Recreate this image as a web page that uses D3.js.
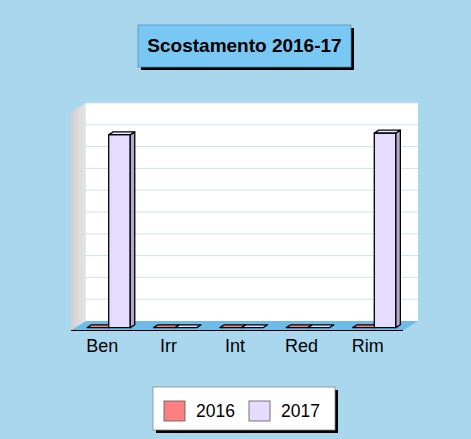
<!DOCTYPE html>
<html>
<head>
<meta charset="utf-8">
<script src="https://cdn.jsdelivr.net/npm/d3@7"></script>
<style>
  body { margin: 0; background: #a9d8ee; }
  svg { display: block; font-family: 'Liberation Sans', Arial, sans-serif; }
</style>
</head>
<body>
<div id="chart"></div>
<script>
const categories = ['Ben', 'Irr', 'Int', 'Red', 'Rim']
const seriesNames = ['2016', '2017']
const values2016 = [0, 0, 0, 0, 0]
const values2017 = [8.85, 0, 0, 0, 8.93]
const title = 'Scostamento 2016-17'

const width = 471, height = 439

const colors = {
  '2016': { front: '#ff8080', side: '#c86060', top: '#ff9c9c' },
  '2017': { front: '#e6dcff', side: '#b4aacb', top: '#f1ecff' }
}

// floor depth (front -> back wall)
const depth = { dx: 15, dy: -9.5 }
const barFront = 0.3, barBack = 0.6

const svg = d3.select('#chart').append('svg')
  .attr('width', width).attr('height', height)
  .attr('viewBox', [0, 0, width, height])

svg.append('rect').attr('width', width).attr('height', height).attr('fill', '#a9d8ee')

// scales on the front plane
const x = d3.scaleBand().domain(categories).range([71, 403])
const x1 = d3.scaleBand().domain(seriesNames).range([0, x.bandwidth()]).paddingOuter(0.54)
const y = d3.scaleLinear().domain([0, 10]).range([330.5, 112.5])

const x0 = x.range()[0], xEnd = x.range()[1]
const yBase = y(0), yTop = y(10)

const defs = svg.append('defs')
const grad = defs.append('linearGradient').attr('id', 'sidewall')
  .attr('x1', 0).attr('x2', 1).attr('y1', 0).attr('y2', 0)
grad.append('stop').attr('offset', 0).attr('stop-color', '#cfcfcf')
grad.append('stop').attr('offset', 1).attr('stop-color', '#e6e6e6')

// back wall
svg.append('rect')
  .attr('x', x0 + depth.dx).attr('y', yTop + depth.dy)
  .attr('width', xEnd - x0).attr('height', yBase - yTop)
  .attr('fill', '#ffffff')

// grid lines on back wall
svg.append('g').selectAll('line')
  .data(d3.range(1, 11))
  .join('line')
  .attr('x1', x0 + depth.dx).attr('x2', xEnd + depth.dx)
  .attr('y1', d => y(d) + depth.dy).attr('y2', d => y(d) + depth.dy)
  .attr('stroke', '#cde3ea').attr('stroke-width', 1)

// left side wall
svg.append('polygon')
  .attr('points', [
    [x0, yBase], [x0 + depth.dx, yBase + depth.dy],
    [x0 + depth.dx, yTop + depth.dy], [x0, yTop]
  ].join(' '))
  .attr('fill', 'url(#sidewall)')

// floor
svg.append('polygon')
  .attr('points', [
    [x0, yBase], [xEnd, yBase],
    [xEnd + depth.dx, yBase + depth.dy], [x0 + depth.dx, yBase + depth.dy]
  ].join(' '))
  .attr('fill', '#6cbbe8')
svg.append('line')
  .attr('x1', x0).attr('x2', xEnd).attr('y1', yBase).attr('y2', yBase)
  .attr('stroke', '#000').attr('stroke-width', 1.2)

// bars
const bars = []
categories.forEach((c, i) => {
  bars.push({ cat: c, s: '2016', v: values2016[i] })
  bars.push({ cat: c, s: '2017', v: values2017[i] })
})

const fx = depth.dx * barFront, fy = depth.dy * barFront
const bx = depth.dx * (barBack - barFront), by = depth.dy * (barBack - barFront)

const barG = svg.append('g')
  .attr('stroke', '#000').attr('stroke-width', 1.3).attr('stroke-linejoin', 'round')

bars.forEach(d => {
  const left = x(d.cat) + x1(d.s) + fx
  const right = left + x1.bandwidth()
  const top = y(d.v) + fy
  const bottom = yBase + fy
  const g = barG.append('g')
  if (d.v > 0) {
    g.append('rect')
      .attr('x', left).attr('y', top)
      .attr('width', right - left).attr('height', bottom - top)
      .attr('fill', colors[d.s].front)
    g.append('polygon')
      .attr('points', [[right, top], [right + bx, top + by], [right + bx, bottom + by], [right, bottom]].join(' '))
      .attr('fill', colors[d.s].side)
  }
  g.append('polygon')
    .attr('points', [[left, top], [right, top], [right + bx, top + by], [left + bx, top + by]].join(' '))
    .attr('fill', d.v > 0 ? colors[d.s].top : colors[d.s].front)
})

// category axis
const axis = svg.append('g')
  .attr('transform', `translate(-2,${yBase + 6})`)
  .call(d3.axisBottom(x).tickSize(0).tickPadding(3))
axis.select('.domain').remove()
axis.selectAll('text')
  .attr('font-size', 18).attr('fill', '#000')
  .attr('font-family', "'Liberation Sans', Arial, sans-serif")

// title box
const tb = { x: 138, y: 25, w: 213, h: 42 }
svg.append('rect')
  .attr('x', tb.x + 3).attr('y', tb.y + 3).attr('width', tb.w).attr('height', tb.h)
  .attr('fill', '#000')
svg.append('rect')
  .attr('x', tb.x).attr('y', tb.y).attr('width', tb.w).attr('height', tb.h)
  .attr('fill', '#79c7f3').attr('stroke', '#5a8fb0').attr('stroke-width', 0.8)
svg.append('text')
  .attr('x', tb.x + tb.w / 2).attr('y', tb.y + 27)
  .attr('text-anchor', 'middle')
  .attr('font-size', 19).attr('font-weight', 'bold')
  .text(title)

// legend
const lb = { x: 153, y: 387, w: 182, h: 43 }
svg.append('rect')
  .attr('x', lb.x + 3).attr('y', lb.y + 3).attr('width', lb.w).attr('height', lb.h)
  .attr('fill', '#000')
svg.append('rect')
  .attr('x', lb.x).attr('y', lb.y).attr('width', lb.w).attr('height', lb.h)
  .attr('fill', '#fff').attr('stroke', '#888').attr('stroke-width', 0.8)

const legend = svg.append('g').selectAll('g')
  .data(seriesNames)
  .join('g')
  .attr('transform', (d, i) => `translate(${164 + i * 85},401)`)
legend.append('rect')
  .attr('width', 21).attr('height', 20)
  .attr('fill', d => colors[d].front)
  .attr('stroke', '#555').attr('stroke-width', 0.8)
legend.append('text')
  .attr('x', 32).attr('y', 16)
  .attr('font-size', 17.5)
  .text(d => d)
</script>
</body>
</html>
